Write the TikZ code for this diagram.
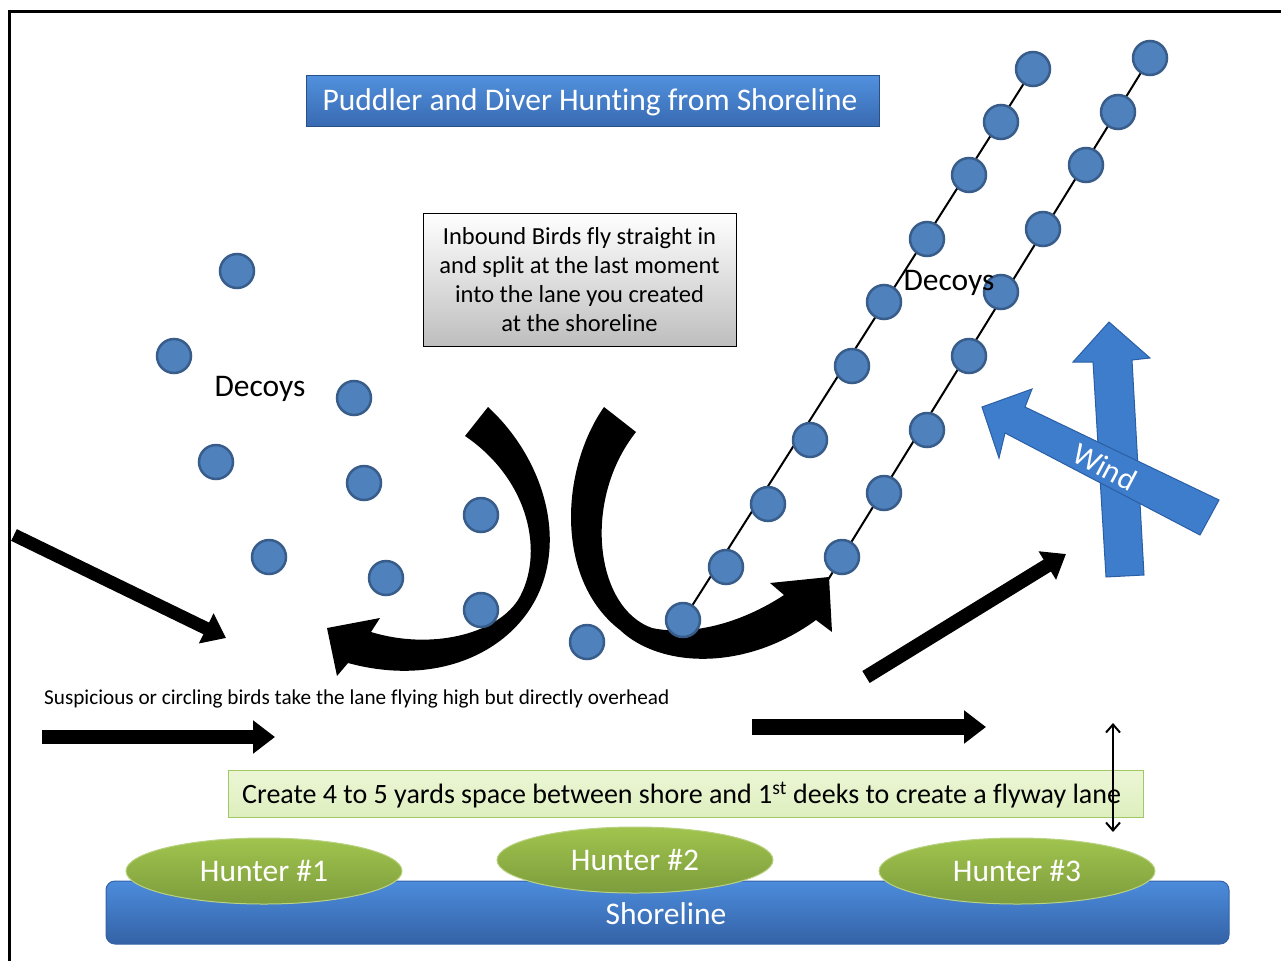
\documentclass[tikz,border=0pt]{standalone}
\usepackage{fontspec}
\setmainfont{Carlito}[Ligatures=NoCommon]
\usetikzlibrary{arrows.meta,shapes.geometric,calc}
\definecolor{decoyfill}{RGB}{79,129,189}
\definecolor{decoyline}{RGB}{56,93,138}
\definecolor{titletop}{RGB}{82,145,222}
\definecolor{titlebot}{RGB}{56,106,178}
\definecolor{titleline}{RGB}{40,80,135}
\definecolor{shoretop}{RGB}{76,140,220}
\definecolor{shorebot}{RGB}{52,98,166}
\definecolor{huntop}{RGB}{160,196,78}
\definecolor{hunbot}{RGB}{125,156,60}
\definecolor{hunline}{RGB}{185,210,130}
\definecolor{lanefill}{RGB}{236,246,214}
\definecolor{lanebot}{RGB}{222,239,190}
\definecolor{laneline}{RGB}{160,200,100}
\definecolor{windfill}{RGB}{62,124,204}
\definecolor{windline}{RGB}{42,95,165}
\begin{document}
\begin{tikzpicture}[x=1pt,y=-1pt,
  decoy/.style={circle,minimum size=34pt,inner sep=0pt,fill=decoyfill,draw=decoyline,line width=2.5pt},
  decoyline/.style={black,line width=2pt},
  bigtext/.style={font=\fontsize{31.5}{36}\selectfont},
  blackarrow/.style={line width=14pt,-{Triangle[length=22pt,width=32pt]},black},
  bendarrow/.style={fill=black},
  windarrow/.style={fill=windfill,draw=windline,line width=1pt},
  hunter/.style={ellipse,minimum width=276pt,minimum height=66pt,top color=huntop,bottom color=hunbot,draw=hunline,line width=1pt,text=white,font=\fontsize{31.5}{36}\selectfont}
]
\useasboundingbox (0,0) rectangle (1281,961);
% frame
\draw[line width=3pt] (9.5,961) -- (9.5,11.5) -- (1281,11.5);

% title
\node[minimum width=573pt,minimum height=51pt,top color=titletop,bottom color=titlebot,draw=titleline,line width=1pt] (title) at (592.5,100.5) {};
\node[text=white,font=\fontsize{31.5}{36}\selectfont] (titletext) at (590,102) {Puddler and Diver Hunting from Shoreline};

% info box
\node[minimum width=313pt,minimum height=133pt,top color=white,bottom color={rgb,255:red,190;green,190;blue,190},draw=black,line width=1pt,align=center,font=\fontsize{24.5}{29}\selectfont] (info) at (579.5,279.5) {Inbound Birds fly straight in\\and split at the last moment\\into the lane you created\\at the shoreline};

% decoy lines (coordinates)
\coordinate (l1a) at (683,620);
\coordinate (l1b) at (1033,69);
\coordinate (l2a) at (818,596);
\coordinate (l2b) at (1150,58);
\draw[decoyline] (l1a) -- (l1b);
\draw[decoyline] (l2a) -- (l2b);

% curved arrows
\path[bendarrow] (465,436) -- (488,407)
  .. controls (540,455) and (565,530) .. (540,590)
  .. controls (515,650) and (440,688) .. (348,663)
  -- (337,676) -- (327,628) -- (380,618) -- (371,632)
  .. controls (430,650) and (495,635) .. (518,600)
  .. controls (545,555) and (530,480) .. (465,436) -- cycle;
\path[bendarrow] (636,432) -- (604,407)
  .. controls (560,470) and (555,580) .. (620,630)
  .. controls (660,668) and (745,672) .. (816,620)
  -- (832,632) -- (829,577) -- (770,583) -- (784,595)
  .. controls (740,624) and (690,636) .. (652,628)
  .. controls (595,608) and (582,500) .. (636,432) -- cycle;

% left decoys
\node[decoy] (a1) at (237,271) {};
\node[decoy] (a2) at (174,356) {};
\node[decoy] (a3) at (354,398) {};
\node[decoy] (a4) at (216,462) {};
\node[decoy] (a5) at (364,483) {};
\node[decoy] (a6) at (481,515) {};
\node[decoy] (a7) at (269,557) {};
\node[decoy] (a8) at (386,578) {};
\node[decoy] (a9) at (481,610) {};
\node[decoy] (a10) at (587,642) {};
% line 1 decoys
\node[decoy] (b1) at (1033,69) {};
\node[decoy] (b2) at (1001,122) {};
\node[decoy] (b3) at (969,175) {};
\node[decoy] (b4) at (927,239) {};
\node[decoy] (b5) at (884,302) {};
\node[decoy] (b6) at (852,366) {};
\node[decoy] (b7) at (810,440) {};
\node[decoy] (b8) at (768,504) {};
\node[decoy] (b9) at (726,567) {};
\node[decoy] (b10) at (683,620) {};
% line 2 decoys
\node[decoy] (c1) at (1150,58) {};
\node[decoy] (c2) at (1118,112) {};
\node[decoy] (c3) at (1086,165) {};
\node[decoy] (c4) at (1043,229) {};
\node[decoy] (c5) at (1001,292) {};
\node[decoy] (c6) at (969,356) {};
\node[decoy] (c7) at (927,430) {};
\node[decoy] (c8) at (884,493) {};
\node[decoy] (c9) at (842,557) {};

\node[bigtext] (dec1) at (260,389) {Decoys};
\node[bigtext] (dec2) at (949,283) {Decoys};

% wind arrows
\path[windarrow] (1106,577) -- (1093,362) -- (1073,362) -- (1109,322) -- (1150,358) -- (1132,360) -- (1144,575) -- cycle;
\path[windarrow] (982,407) -- (1032,389) -- (1025,407) -- (1219,500) -- (1200,535) -- (1005,433) -- (999,458) -- cycle;
\node[rotate=-28,text=white,inner sep=0pt,font=\fontsize{31}{36}\selectfont] (wind) at (1105,467) {Wind};

% straight black arrows
\coordinate (s1) at (14,535); \coordinate (e1) at (226,638);
\coordinate (s2) at (42,737); \coordinate (e2) at (275,737);
\coordinate (s3) at (752,727); \coordinate (e3) at (986,727);
\coordinate (s4) at (866,677); \coordinate (e4) at (1066,554);
\draw[blackarrow,line width=13pt] (s1) -- (e1);
\draw[blackarrow] (s2) -- (e2);
\draw[blackarrow,line width=16pt] (s3) -- (e3);
\draw[blackarrow,line width=14pt] (s4) -- (e4);

\node[anchor=west,inner sep=0pt,font=\fontsize{21.2}{25}\selectfont] (susp) at (44,699) {Suspicious or circling birds take the lane flying high but directly overhead};

% lane box
\node[minimum height=47pt,minimum width=915pt,top color=lanefill,bottom color=lanebot,draw=laneline,line width=1pt] (lane) at (685.5,793.5) {};
\node[anchor=west,inner sep=0pt,font=\fontsize{28}{32}\selectfont] (lanetext) at (242,795) {Create 4 to 5 yards space between shore and 1\textsuperscript{st} deeks to create a flyway lane};

\coordinate (v1) at (1113,723);
\coordinate (v2) at (1113,832);
\draw[line width=2pt,{Straight Barb[length=8pt,width=14pt]}-{Straight Barb[length=8pt,width=14pt]}] (v1) -- (v2);

% shoreline
\node[minimum width=1123pt,minimum height=63pt,rounded corners=9pt,top color=shoretop,bottom color=shorebot,draw=shorebot,line width=1pt] (shore) at (667.5,912.5) {};
\node[text=white,font=\fontsize{31.5}{36}\selectfont] (shoretext) at (666,914) {Shoreline};

\node[hunter] (h1) at (264,871) {Hunter \#1};
\node[hunter] (h2) at (635,860) {Hunter \#2};
\node[hunter] (h3) at (1017,871) {Hunter \#3};
\end{tikzpicture}
\end{document}
